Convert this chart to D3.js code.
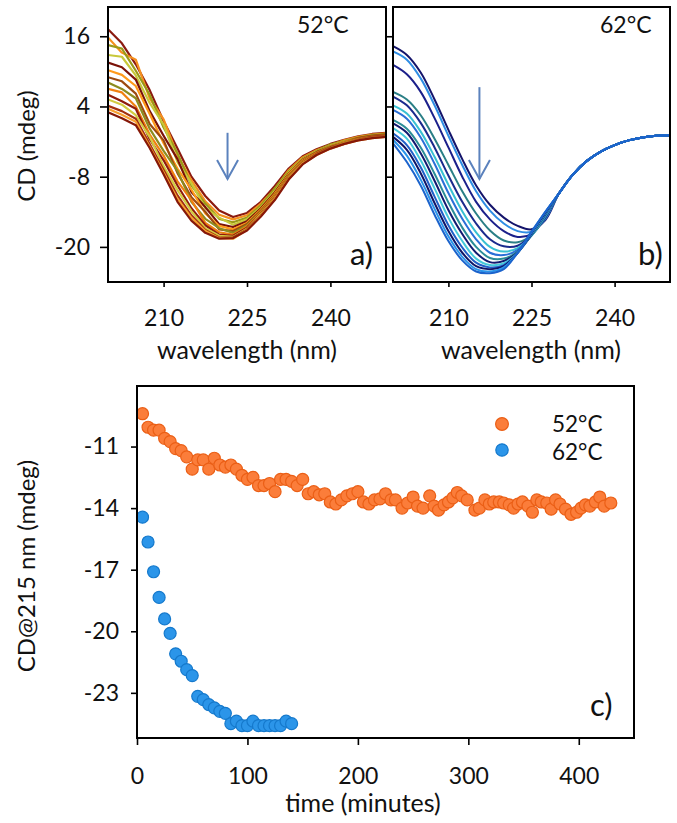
<!DOCTYPE html>
<html><head><meta charset="utf-8">
<script src="https://cdn.jsdelivr.net/npm/d3@7"></script>
<style>
body{margin:0;background:#fff}
svg{display:block}
text{font-family:Lato,'Open Sans',sans-serif;fill:#111}
</style>
</head><body>
<svg id="chart" width="677" height="823"></svg>
<script>
// ---------- DATA ----------
const wavelengths = [200,202.5,205,207.5,210,212.5,215,217.5,220,222.5,225,227.5,230,232.5,235,237.5,240,242.5,245,247.5,250];
const cdTicks = [16,4,-8,-20];
const wlTicks = [210,225,240];

// 52°C spectra (mdeg) at the wavelengths above
const spectra52 = [
  [17.2,14.8,11.2,6.8,1.5,-3.2,-8.0,-11.3,-13.8,-14.9,-14.2,-12.3,-9.6,-6.6,-4.5,-3.3,-2.4,-1.7,-1.1,-0.7,-0.5],
  [15.8,13.2,12.0,5.4,1.8,-4.3,-8.6,-12.2,-14.5,-15.3,-14.6,-12.6,-10.1,-6.9,-4.7,-3.5,-2.6,-1.8,-1.2,-0.8,-0.6],
  [14.5,13.9,10.1,6.0,0.4,-4.0,-9.5,-12.6,-15.2,-15.8,-15.0,-12.9,-10.0,-7.1,-4.9,-3.6,-2.5,-1.9,-1.3,-0.9,-0.7],
  [12.8,12.5,9.3,4.6,0.9,-5.5,-9.1,-13.4,-15.0,-16.2,-15.3,-13.2,-10.5,-7.3,-5.0,-3.7,-2.7,-2.0,-1.4,-1.0,-0.8],
  [11.5,10.7,8.6,3.2,-1.0,-5.0,-10.6,-13.2,-16.1,-16.6,-15.6,-13.4,-10.7,-7.5,-5.1,-3.8,-2.8,-2.1,-1.4,-1.0,-0.8],
  [10.2,9.4,7.5,2.7,-2.3,-6.6,-10.2,-14.3,-16.4,-17.0,-15.9,-13.6,-10.9,-7.6,-5.2,-3.9,-2.8,-2.1,-1.5,-1.1,-0.9],
  [9.0,8.3,6.2,1.0,-1.8,-7.4,-11.5,-14.0,-17.0,-17.3,-16.1,-13.8,-11.1,-7.8,-5.3,-3.9,-2.9,-2.2,-1.5,-1.1,-0.9],
  [8.1,7.0,5.4,0.2,-3.6,-7.0,-12.3,-15.2,-16.8,-17.6,-16.3,-14.0,-11.2,-7.9,-5.4,-4.0,-2.9,-2.2,-1.6,-1.2,-1.0],
  [7.0,6.4,4.0,-0.8,-4.4,-8.8,-12.0,-15.9,-17.5,-17.9,-16.5,-14.1,-11.3,-8.0,-5.5,-4.0,-3.0,-2.3,-1.6,-1.2,-1.0],
  [6.0,4.9,3.6,-1.6,-5.2,-9.5,-13.4,-16.3,-17.9,-18.1,-16.7,-14.3,-11.5,-8.1,-5.6,-4.1,-3.0,-2.3,-1.7,-1.2,-1.0],
  [5.2,4.3,2.5,-1.2,-6.2,-10.3,-13.9,-16.8,-18.1,-18.3,-16.9,-14.4,-11.6,-8.2,-5.7,-4.2,-3.1,-2.3,-1.7,-1.3,-1.1],
  [4.1,3.2,1.9,-2.4,-6.8,-11.2,-14.6,-17.1,-18.4,-18.4,-17.0,-14.6,-11.7,-8.3,-5.8,-4.2,-3.1,-2.4,-1.7,-1.3,-1.1],
  [3.6,2.6,1.4,-2.9,-7.3,-11.8,-15.0,-17.3,-18.5,-18.6,-17.1,-14.7,-11.8,-8.4,-5.8,-4.3,-3.2,-2.4,-1.8,-1.4,-1.2],
  [3.0,2.0,0.8,-3.1,-7.6,-12.3,-15.5,-17.6,-18.6,-18.5,-17.2,-14.8,-12.0,-8.5,-5.9,-4.3,-3.2,-2.4,-1.8,-1.4,-1.2]
];
const colors52 = ["#8b1a10","#f5901e","#9a9a18","#c8c83a","#7a1208","#ff9a1a","#9c4a10","#8c8c20","#f08010","#8f1c0c","#d2cc40","#a3300e","#f7a030","#861808"];

// 62°C spectra: 200–227.5 nm part per curve, and common 230–250 nm part
const spectra62Head = [
  [14.3,12.8,9.8,5.2,0.0,-5.0,-9.5,-12.8,-15.0,-16.4,-17.0,-15.4],
  [13.4,12.0,8.8,4.2,-1.0,-6.0,-10.5,-13.8,-16.0,-17.3,-17.4,-15.2],
  [11.1,9.5,6.5,2.0,-3.0,-8.0,-12.3,-15.3,-17.3,-18.3,-17.8,-15.0],
  [6.5,5.2,2.5,-1.5,-6.0,-10.5,-14.3,-17.2,-18.9,-19.2,-18.0,-14.9],
  [5.7,4.2,1.2,-3.0,-7.8,-12.3,-16.0,-18.7,-19.9,-19.8,-18.0,-14.8],
  [4.2,2.8,-0.3,-4.6,-9.4,-13.9,-17.5,-20.0,-20.8,-20.2,-18.1,-14.7],
  [3.4,1.9,-1.3,-5.8,-10.8,-15.2,-18.7,-21.0,-21.4,-20.5,-18.0,-14.6],
  [1.7,0.2,-3.0,-7.5,-12.4,-16.7,-20.0,-21.9,-22.0,-20.8,-18.0,-14.5],
  [1.1,-0.5,-4.0,-8.7,-13.7,-17.8,-21.0,-22.6,-22.4,-20.9,-17.9,-14.4],
  [0.3,-1.5,-5.2,-10.0,-15.0,-19.0,-22.0,-23.1,-22.8,-21.0,-17.8,-14.3],
  [-0.6,-2.6,-6.4,-11.4,-16.3,-20.1,-22.7,-23.5,-23.1,-21.0,-17.7,-14.2],
  [-1.2,-3.4,-7.4,-12.5,-17.3,-21.0,-23.3,-23.8,-23.3,-21.0,-17.6,-14.1],
  [-1.7,-4.4,-8.5,-13.5,-18.2,-21.7,-23.8,-24.2,-23.5,-21.0,-17.5,-14.0],
  [-2.3,-5.5,-9.5,-14.5,-19.0,-22.3,-24.2,-24.5,-23.8,-21.0,-17.4,-14.0]
];
const spectra62Tail = [-10.8,-7.6,-5.3,-3.7,-2.6,-1.8,-1.3,-1.0,-0.9];
const colors62 = ["#14146b","#2f8de4","#1b1f8a","#2a7f86","#1a2a8c","#38c0d2","#2a6fd6","#2b8d98","#121a70","#45c9da","#1f5fc8","#0f1466","#2a95ea","#1b63cc"];

// kinetics at 215 nm
const time52 = [5,10,15,20,25,30,35,40,45,50,55,60,65,70,75,80,85,90,95,100,105,110,115,120,125,130,135,140,145,150,155,160,165,170,175,180,185,190,195,200,205,210,215,220,225,230,
  234,240,245,250,254,259,265,269,273,278,282,286,290,294,299,306,310,315,319,323,328,332,337,341,345,349,354,358,362,366,371,375,379,383,388,393,398,402,406,410,415,419,423,429];
const cd52 = [-9.4,-10.06,-10.2,-10.2,-10.6,-10.76,-11.1,-11.2,-11.5,-12.1,-11.65,-11.65,-12.1,-11.57,-11.9,-12.0,-11.9,-12.1,-12.4,-12.6,-12.5,-12.9,-12.9,-12.8,-13.2,-12.6,-12.6,-12.7,-12.9,-12.6,-13.3,-13.2,-13.35,-13.3,-13.7,-13.8,-13.6,-13.4,-13.3,-13.2,-13.7,-13.8,-13.6,-13.55,-13.3,-13.6,
  -13.6,-14.0,-13.75,-13.46,-13.9,-14.0,-13.4,-13.9,-14.1,-13.84,-13.7,-13.5,-13.24,-13.4,-13.6,-14.1,-14.0,-13.6,-13.8,-13.7,-13.7,-13.75,-13.84,-14.0,-13.8,-13.7,-13.9,-14.2,-13.6,-13.7,-13.75,-14.05,-13.6,-13.8,-14.05,-14.3,-14.2,-14.0,-13.84,-13.9,-13.7,-13.46,-13.9,-13.75];
const time62 = [5,10,15,20,25,30,35,40,45,50,55,60,65,70,75,80,85,90,95,100,105,110,115,120,125,130,135,140];
const cd62 = [-14.44,-15.65,-17.1,-18.35,-19.4,-20.1,-21.1,-21.46,-21.87,-22.16,-23.17,-23.33,-23.57,-23.73,-23.9,-24.0,-24.5,-24.38,-24.6,-24.6,-24.38,-24.6,-24.6,-24.6,-24.6,-24.6,-24.38,-24.5];
const timeTicks = [0,100,200,300,400];
const cdcTicks = [-11,-14,-17,-20,-23];
const legendLabels = ["52°C","62°C"];

// ---------- DRAW ----------
const svg = d3.select("#chart");
const TICKFONT = 23, TITLEFONT = 25;
const hyphen = d => String(d);   // plain ASCII hyphen as in the reference

function styleAxis(g){
  g.select(".domain").remove();
  g.selectAll(".tick line").attr("stroke","#000").attr("stroke-width",1.6);
  g.selectAll(".tick text").style("font-size",TICKFONT+"px").attr("fill","#111");
}
function frame(x0,x1,y0,y1){
  svg.append("rect").attr("x",x0).attr("y",y0).attr("width",x1-x0).attr("height",y1-y0)
    .attr("fill","none").attr("stroke","#000").attr("stroke-width",2);
}

// scales for spectra
const xA = d3.scaleLinear().domain([200,250]).range([108,386]);
const xB = d3.scaleLinear().domain([200,250]).range([393,670]);
const yS = d3.scaleLinear().domain([-26,21]).range([282,7]);

const defs = svg.append("defs");
defs.append("clipPath").attr("id","clipA").append("rect").attr("x",108).attr("y",7).attr("width",278).attr("height",275);
defs.append("clipPath").attr("id","clipB").append("rect").attr("x",393).attr("y",7).attr("width",277).attr("height",275);

// panel a
const lineA = d3.line().x((d,i)=>xA(wavelengths[i])).y(d=>yS(d));
svg.append("g").attr("clip-path","url(#clipA)").selectAll("path").data(spectra52).join("path")
  .attr("d",lineA).attr("fill","none").attr("stroke",(d,i)=>colors52[i]).attr("stroke-width",2.2).attr("stroke-linejoin","round");

// panel b
const lineB = d3.line().curve(d3.curveCatmullRom).x((d,i)=>xB(wavelengths[i])).y(d=>yS(d));
svg.append("g").attr("clip-path","url(#clipB)").selectAll("path").data(spectra62Head.map(h=>h.concat(spectra62Tail))).join("path")
  .attr("d",lineB).attr("fill","none").attr("stroke",(d,i)=>colors62[i]).attr("stroke-width",2);

// axes a
svg.append("g").attr("transform","translate(108,0)")
  .call(d3.axisLeft(yS).tickValues(cdTicks).tickSize(8).tickPadding(10).tickFormat(hyphen)).call(styleAxis);
svg.append("g").attr("transform","translate(0,282)")
  .call(d3.axisBottom(xA).tickValues(wlTicks).tickSize(5).tickPadding(23).tickFormat(hyphen)).call(styleAxis);
// axes b
svg.append("g").attr("transform","translate(393,0)")
  .call(d3.axisLeft(yS).tickValues(cdTicks).tickSize(6).tickFormat("")).call(styleAxis);
svg.append("g").attr("transform","translate(0,282)")
  .call(d3.axisBottom(xB).tickValues(wlTicks).tickSize(5).tickPadding(23).tickFormat(hyphen)).call(styleAxis);

frame(108,386,7,282);
frame(393,670,7,282);

// arrows
const arrowColor = "#5b82bd";
function arrow(xs, x, v0, v1){
  const g = svg.append("g").attr("stroke",arrowColor).attr("stroke-width",2).attr("fill","none");
  g.append("line").attr("x1",xs(x)).attr("x2",xs(x)).attr("y1",yS(v0)).attr("y2",yS(v1));
  g.append("path").attr("d",`M${xs(x)-10.5},${yS(v1)-19} L${xs(x)},${yS(v1)} L${xs(x)+10.5},${yS(v1)-19}`);
}
arrow(xA,221.5,-0.5,-8.4);
arrow(xB,215.6,7.3,-8.4);

// labels a/b
svg.append("text").attr("x",297).attr("y",33).style("font-size","23px").text("52°C");
svg.append("text").attr("x",600).attr("y",33).style("font-size","23px").text("62°C");
svg.append("text").attr("x",350).attr("y",265).style("font-size","31px").text("a)");
svg.append("text").attr("x",638).attr("y",265).style("font-size","31px").text("b)");
svg.append("text").attr("transform","translate(35,146) rotate(-90)").attr("text-anchor","middle").style("font-size","24px").text("CD (mdeg)");
svg.append("text").attr("x",247).attr("y",359).attr("text-anchor","middle").style("font-size",TITLEFONT+"px").text("wavelength (nm)");
svg.append("text").attr("x",531).attr("y",359).attr("text-anchor","middle").style("font-size",TITLEFONT+"px").text("wavelength (nm)");

// panel c
const xC = d3.scaleLinear().domain([0,450]).range([137,634]);
const yC = d3.scaleLinear().domain([-25.2,-8.05]).range([738,386]);
svg.append("g").attr("transform","translate(137,0)")
  .call(d3.axisLeft(yC).tickValues(cdcTicks).tickSize(6).tickPadding(12).tickFormat(hyphen)).call(styleAxis);
svg.append("g").attr("transform","translate(0,738)")
  .call(d3.axisBottom(xC).tickValues(timeTicks).tickSize(7).tickPadding(23).tickFormat(hyphen)).call(styleAxis);

const orangeFill="#fb7d3a", orangeStroke="#eb5f16", blueFill="#2b95e9", blueStroke="#1579cc";
svg.append("g").selectAll("circle").data(time52).join("circle")
  .attr("cx",d=>xC(d)).attr("cy",(d,i)=>yC(cd52[i])).attr("r",6)
  .attr("fill",orangeFill).attr("stroke",orangeStroke).attr("stroke-width",1.2);
svg.append("g").selectAll("circle").data(time62).join("circle")
  .attr("cx",d=>xC(d)).attr("cy",(d,i)=>yC(cd62[i])).attr("r",6)
  .attr("fill",blueFill).attr("stroke",blueStroke).attr("stroke-width",1.2);

frame(137,634,386,738);

// legend
const lg = svg.append("g");
lg.append("circle").attr("cx",502).attr("cy",424).attr("r",6.4).attr("fill",orangeFill).attr("stroke",orangeStroke).attr("stroke-width",1.2);
lg.append("circle").attr("cx",502).attr("cy",450).attr("r",6.2).attr("fill",blueFill).attr("stroke",blueStroke).attr("stroke-width",1.2);
lg.append("text").attr("x",552).attr("y",432).style("font-size","22.5px").text(legendLabels[0]);
lg.append("text").attr("x",552).attr("y",460).style("font-size","22.5px").text(legendLabels[1]);

svg.append("text").attr("x",590).attr("y",716).style("font-size","31px").text("c)");
svg.append("text").attr("transform","translate(35,566) rotate(-90)").attr("text-anchor","middle").style("font-size","24px").text("CD@215 nm (mdeg)");
svg.append("text").attr("x",363).attr("y",812).attr("text-anchor","middle").style("font-size",TITLEFONT+"px").text("time (minutes)");
</script>
</body></html>
